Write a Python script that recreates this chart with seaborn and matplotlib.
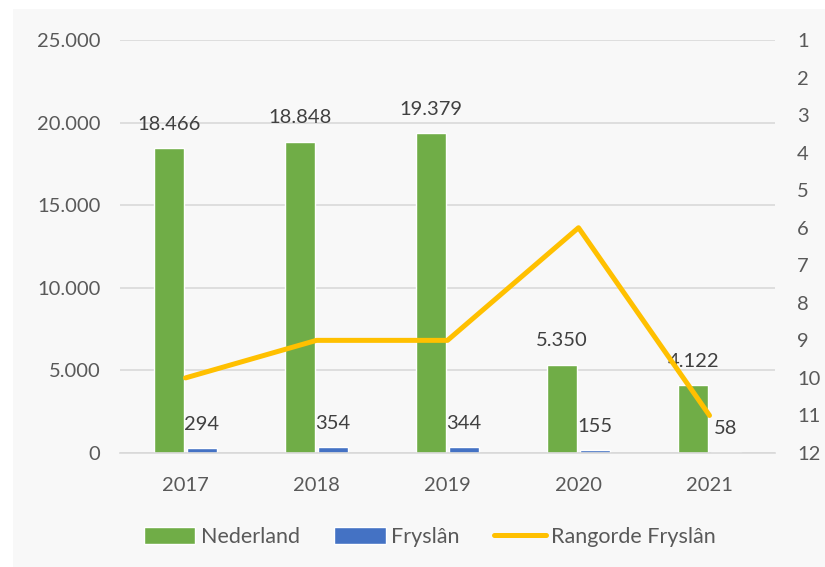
"""Nederland vs Fryslân chart with rank line."""

import matplotlib.pyplot as plt
import numpy as np
import pandas as pd
import seaborn as sns
from matplotlib.lines import Line2D
from matplotlib.patches import Patch, Rectangle

jaren = ["2017", "2018", "2019", "2020", "2021"]
nederland = [18466, 18848, 19379, 5350, 4122]
fryslan = [294, 354, 344, 155, 58]
rangorde = [10, 9, 9, 6, 11]

GREEN = "#70AD47"
BLUE = "#4472C4"
YELLOW = "#FFC000"
TEXT = "#595959"


def dots(v):
    return f"{v:,}".replace(",", ".")


df = pd.DataFrame({
    "jaar": jaren * 2,
    "aantal": nederland + fryslan,
    "reeks": ["Nederland"] * len(jaren) + ["Fryslân"] * len(jaren),
})

sns.set_theme(style="white")
plt.rcParams["font.family"] = ["Lato", "DejaVu Sans"]

fig = plt.figure(figsize=(8.25, 5.67), dpi=100, facecolor="white")
fig.patches.append(Rectangle((13 / 825, 0), 1, 1 - 9 / 567, transform=fig.transFigure,
                             facecolor="#f8f8f8", edgecolor="none", zorder=-1))
ax = fig.add_axes([120 / 825, 114 / 567, 655 / 825, 413 / 567])
ax.set_facecolor("none")

sns.barplot(data=df, x="jaar", y="aantal", hue="reeks", palette=[GREEN, BLUE],
            saturation=1, width=0.5, gap=0.1, legend=False, ax=ax, zorder=2)

for cont, vals in zip(ax.containers, [nederland, fryslan]):
    ax.bar_label(cont, labels=[dots(v) for v in vals], padding=11,
                 fontsize=14.5, color="#404040")

ax.set_ylim(0, 25000)
ax.set_xlim(-0.5, len(jaren) - 0.5)
ax.set_yticks(range(0, 25001, 5000))
ax.set_yticklabels([dots(v) for v in range(0, 25001, 5000)])
ax.yaxis.grid(True, color="#d9d9d9", linewidth=1.2)
ax.set_axisbelow(True)
for s in ["top", "right", "left"]:
    ax.spines[s].set_visible(False)
ax.spines["bottom"].set_color("#d9d9d9")
ax.spines["bottom"].set_linewidth(1.2)
ax.tick_params(axis="both", length=0, labelsize=14.5, labelcolor=TEXT)
ax.tick_params(axis="y", pad=14)
ax.tick_params(axis="x", pad=17)
ax.set_xlabel("")
ax.set_ylabel("")

ax2 = ax.twinx()
sns.lineplot(x=np.arange(len(jaren)), y=rangorde, color=YELLOW, linewidth=3.6,
             ax=ax2, solid_capstyle="round", zorder=3)
ax2.set_ylim(12, 1)
ax2.set_yticks(range(1, 13))
ax2.tick_params(axis="y", length=0, labelsize=14.5, labelcolor=TEXT, pad=16)
for s in ax2.spines.values():
    s.set_visible(False)
ax2.set_ylabel("")

handles = [
    Patch(facecolor=GREEN, label="Nederland"),
    Patch(facecolor=BLUE, label="Fryslân"),
    Line2D([0], [0], color=YELLOW, linewidth=3.6, solid_capstyle="round", label="Rangorde Fryslân"),
]
leg = fig.legend(handles=handles, loc="center", bbox_to_anchor=(0.521, 30 / 567), ncol=3,
                 frameon=False, fontsize=15.5, handlelength=2.4, handleheight=0.8,
                 handletextpad=0.25, columnspacing=1.6)
for t in leg.get_texts():
    t.set_color(TEXT)

fig.savefig("out.png", dpi=100, facecolor=fig.get_facecolor())
